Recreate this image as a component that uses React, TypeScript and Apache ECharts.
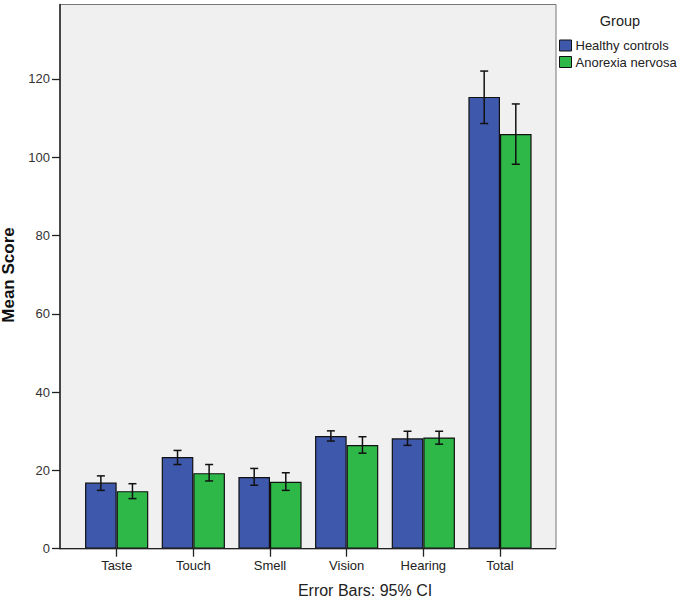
import React, { useEffect, useRef } from "react";
import * as echarts from "echarts";

const categories = ["Taste", "Touch", "Smell", "Vision", "Hearing", "Total"];
const groupNames = ["Healthy controls", "Anorexia nervosa"];
const healthyMean = [16.9, 23.4, 18.3, 28.8, 28.2, 115.4];
const healthyLow = [14.9, 21.5, 16.2, 27.5, 26.4, 108.6];
const healthyHigh = [18.6, 25.1, 20.5, 30.1, 30.0, 122.0];
const anorexiaMean = [14.7, 19.3, 17.1, 26.5, 28.4, 105.9];
const anorexiaLow = [12.8, 17.3, 14.9, 24.4, 26.7, 98.2];
const anorexiaHigh = [16.6, 21.5, 19.4, 28.6, 30.0, 113.6];
const yTicks = [0, 20, 40, 60, 80, 100, 120];

const FONT = "'Liberation Sans', Arial, sans-serif";
const BAR_W = 31.6;
const BLUE = "#3E58AC";
const GREEN = "#2EB848";

function errorSeries(name: string, low: number[], high: number[], offset: number) {
  return {
    type: "custom",
    name,
    z: 10,
    silent: true,
    data: low.map((l, i) => [i, l, high[i]]),
    encode: { x: 0, y: [1, 2] },
    renderItem: (params: any, api: any) => {
      const idx = api.value(0);
      const lo = api.coord([idx, api.value(1)]);
      const hi = api.coord([idx, api.value(2)]);
      const x = lo[0] + offset;
      const cap = 4;
      const st = { stroke: "#111", lineWidth: 1.5 };
      return {
        type: "group",
        children: [
          { type: "line", shape: { x1: x, y1: lo[1], x2: x, y2: hi[1] }, style: st },
          { type: "line", shape: { x1: x - cap, y1: lo[1], x2: x + cap, y2: lo[1] }, style: st },
          { type: "line", shape: { x1: x - cap, y1: hi[1], x2: x + cap, y2: hi[1] }, style: st },
        ],
      };
    },
  };
}

export default function App() {
  const ref = useRef<HTMLDivElement>(null);
  useEffect(() => {
    if (!ref.current) return;
    const chart = echarts.init(ref.current, null, { renderer: "svg" });
    const gridTop = 4.5;
    const gridBottomY = 548.7;
    chart.setOption({
      animation: false,
      backgroundColor: "#ffffff",
      textStyle: { fontFamily: FONT },
      grid: { left: 78.33, width: 460, top: gridTop, height: gridBottomY - gridTop },
      graphic: [
        {
          type: "rect",
          z: -5,
          shape: { x: 60, y: gridTop, width: 496, height: gridBottomY - gridTop },
          style: { fill: "#f0f0f0", stroke: "#777", lineWidth: 1 },
        },
        {
          type: "line",
          z: 5,
          shape: { x1: 60, y1: gridBottomY, x2: 556, y2: gridBottomY },
          style: { stroke: "#222", lineWidth: 1.3 },
        },
        {
          type: "text",
          x: 620,
          y: 21,
          style: { text: "Group", fontSize: 14.5, fontFamily: FONT, fill: "#222", align: "center", verticalAlign: "middle" },
        },
        {
          type: "text",
          x: 365,
          y: 590,
          style: { text: "Error Bars: 95% CI", fontSize: 16, fontFamily: FONT, fill: "#222", align: "center", verticalAlign: "middle" },
        },
        {
          type: "text",
          x: 8,
          y: 275,
          rotation: Math.PI / 2,
          style: { text: "Mean Score", fontSize: 17, fontWeight: "bold", fontFamily: FONT, fill: "#111", align: "center", verticalAlign: "middle" },
        },
      ],
      legend: {
        orient: "vertical",
        left: 559,
        top: 39,
        padding: 0,
        itemWidth: 12,
        itemHeight: 11,
        itemGap: 3.5,
        icon: "rect",
        data: groupNames,
        itemStyle: { borderColor: "#111", borderWidth: 1 },
        textStyle: { fontSize: 13, fontFamily: FONT, color: "#222", padding: [0, 0, 0, -1] },
      },
      xAxis: {
        type: "category",
        data: categories,
        axisLine: { show: false },
        axisTick: { show: true, alignWithLabel: true, length: 8, lineStyle: { color: "#222", width: 1.3 } },
        axisLabel: { fontSize: 13, color: "#222", margin: 10, fontFamily: FONT },
        splitLine: { show: false },
      },
      yAxis: {
        type: "value",
        min: 0,
        max: 139,
        offset: 18.33,
        axisLine: { show: true, lineStyle: { color: "#222", width: 1.5 } },
        axisTick: { show: true, length: 8, customValues: yTicks, lineStyle: { color: "#222", width: 1.3 } },
        axisLabel: { fontSize: 13, color: "#333", margin: 10, customValues: yTicks, fontFamily: FONT },
        splitLine: { show: false },
      },
      series: [
        {
          type: "bar",
          name: groupNames[0],
          data: healthyMean,
          barWidth: BAR_W,
          barGap: "0%",
          itemStyle: { color: BLUE, borderColor: "#111", borderWidth: 1.2 },
          z: 2,
        },
        {
          type: "bar",
          name: groupNames[1],
          data: anorexiaMean,
          barWidth: BAR_W,
          barGap: "0%",
          itemStyle: { color: GREEN, borderColor: "#111", borderWidth: 1.2 },
          z: 2,
        },
        errorSeries("err-h", healthyLow, healthyHigh, -BAR_W / 2),
        errorSeries("err-a", anorexiaLow, anorexiaHigh, BAR_W / 2),
      ],
    });
    return () => chart.dispose();
  }, []);
  return <div ref={ref} style={{ position: "fixed", left: 0, top: 0, width: 685, height: 599 }} />;
}
